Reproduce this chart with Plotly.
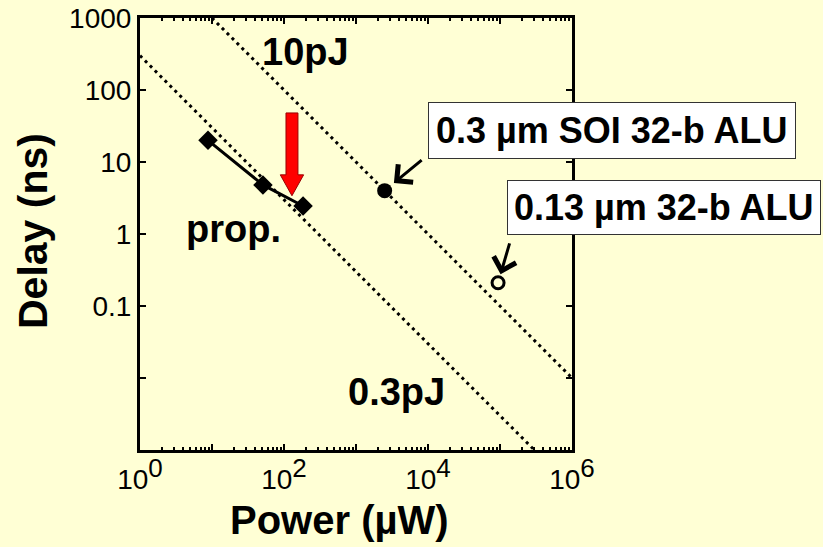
import math
import plotly.graph_objects as go

# ---- data ----
prop_power = [8.8, 51, 184]          # uW
prop_delay = [20, 4.8, 2.45]         # ns

soi_power = [2500]
soi_delay = [4.0]

alu013_power = [9.4e4]
alu013_delay = [0.21]

line10_power = [10, 1e6]
line10_delay = [1000, 0.01]
line03_power = [1, 3.33e5]
line03_delay = [300, 0.0009]

x_tickvals = [1, 10, 100, 1e3, 1e4, 1e5, 1e6]
x_ticktext = ["10<sup><span style='font-size:26px'>0</span></sup>", " ",
              "10<sup><span style='font-size:26px'>2</span></sup>", " ",
              "10<sup><span style='font-size:26px'>4</span></sup>", " ",
              "10<sup><span style='font-size:26px'>6</span></sup>"]
y_tickvals = [1e-3, 1e-2, 0.1, 1, 10, 100, 1000]
y_ticktext = [" ", " ", "0.1", "1", "10", "100", "1000"]

red_arrow_x = 129
red_arrow_top = 48
red_arrow_tip = 3.4

BG = "#FFFFD5"
FONT = "Arial, Liberation Sans, sans-serif"

fig = go.Figure()

dot = "3px,4px"
fig.add_trace(go.Scatter(x=line10_power, y=line10_delay, mode="lines",
                         line=dict(color="black", width=3, dash=dot), hoverinfo="skip"))
fig.add_trace(go.Scatter(x=line03_power, y=line03_delay, mode="lines",
                         line=dict(color="black", width=3, dash=dot), hoverinfo="skip"))

fig.add_trace(go.Scatter(x=prop_power, y=prop_delay, mode="lines+markers",
                         line=dict(color="black", width=3),
                         marker=dict(symbol="diamond", size=15, color="black")))

fig.add_trace(go.Scatter(x=soi_power, y=soi_delay, mode="markers",
                         marker=dict(symbol="circle", size=15, color="black")))
fig.add_trace(go.Scatter(x=alu013_power, y=alu013_delay, mode="markers",
                         marker=dict(symbol="circle-open", size=12, color="black",
                                     line=dict(width=3, color="black"))))

# red arrow polygon (log-space offsets)
lx = math.log10(red_arrow_x)
lt = math.log10(red_arrow_top)
lp = math.log10(red_arrow_tip)
shaft_half = 0.083
head_half = 0.162
head_len = 0.29
lb = lp + head_len
ax_pts = [lx - shaft_half, lx + shaft_half, lx + shaft_half, lx + head_half, lx,
          lx - head_half, lx - shaft_half, lx - shaft_half]
ay_pts = [lt, lt, lb, lb, lp, lb, lb, lt]
fig.add_trace(go.Scatter(x=[10 ** v for v in ax_pts], y=[10 ** v for v in ay_pts],
                         mode="lines", fill="toself", fillcolor="#FF0000",
                         line=dict(color="#990000", width=1), hoverinfo="skip"))

axis_common = dict(
    type="log", showgrid=False, zeroline=False,
    showline=True, linewidth=3, linecolor="black", mirror="ticks",
    ticks="inside", ticklen=6, tickwidth=2, tickcolor="black",
    tickfont=dict(family=FONT, size=28, color="black"),
)

fig.update_xaxes(**axis_common, range=[0, 6], tickvals=x_tickvals, ticktext=x_ticktext,
                 minor=dict(ticks="inside", ticklen=3, tickwidth=1.5, tickcolor="black",
                            dtick="D1", showgrid=False),
                 ticklabelstandoff=2)
fig.update_yaxes(**axis_common, range=[-3, 3], tickvals=y_tickvals, ticktext=y_ticktext,
                 ticklabelstandoff=0)

ann = []
def lbl(text, x, y, size=38):
    ann.append(dict(text="<b>%s</b>" % text, x=math.log10(x), y=math.log10(y),
                    xref="x", yref="y", showarrow=False,
                    font=dict(family=FONT, size=size, color="black")))

lbl("10pJ", 202, 340)
lbl("0.3pJ", 3594, 0.0064)
lbl("prop.", 19.6, 1.17)

# axis titles
ann.append(dict(text="<b>Power (µW)</b>", x=(339 - 140) / 432, y=(450 - 520) / 432,
                xref="paper", yref="paper", showarrow=False, xanchor="center", yanchor="middle",
                font=dict(family=FONT, size=40, color="black")))
ann.append(dict(text="<b>Delay (ns)</b>", x=(33 - 140) / 432, y=(450 - 231) / 432,
                xref="paper", yref="paper", showarrow=False, textangle=-90,
                xanchor="center", yanchor="middle",
                font=dict(family=FONT, size=41, color="black")))

# boxed labels
ann.append(dict(text="<b>0.3 µm SOI 32-b ALU</b>", x=(611.5 - 140) / 432, y=(450 - 130.5) / 432,
                xref="paper", yref="paper", showarrow=False, xanchor="center", yanchor="middle",
                bgcolor="white", bordercolor="#333333", borderwidth=1, borderpad=7,
                font=dict(family=FONT, size=36, color="black")))
ann.append(dict(text="<b>0.13 µm 32-b ALU</b>", x=(664 - 140) / 432, y=(450 - 208) / 432,
                xref="paper", yref="paper", showarrow=False, xanchor="center", yanchor="middle",
                bgcolor="white", bordercolor="#333333", borderwidth=1, borderpad=6,
                font=dict(family=FONT, size=36, color="black")))

# arrows
ann.append(dict(text=" ", x=math.log10(soi_power[0]), y=math.log10(soi_delay[0]),
                xref="x", yref="y", showarrow=True, ax=40, ay=-33,
                arrowhead=4, arrowsize=1.5, arrowwidth=3, arrowcolor="black", standoff=12))
ann.append(dict(text=" ", x=math.log10(alu013_power[0]), y=math.log10(alu013_delay[0]),
                xref="x", yref="y", showarrow=True, ax=14, ay=-48,
                arrowhead=4, arrowsize=1.5, arrowwidth=3, arrowcolor="black", standoff=9))

fig.update_layout(
    width=823, height=547,
    margin=dict(l=140, r=251, t=18, b=97, autoexpand=False),
    paper_bgcolor=BG, plot_bgcolor=BG,
    showlegend=False,
    annotations=ann,
    font=dict(family=FONT, color="black"),
)

fig.write_html("out.html")
